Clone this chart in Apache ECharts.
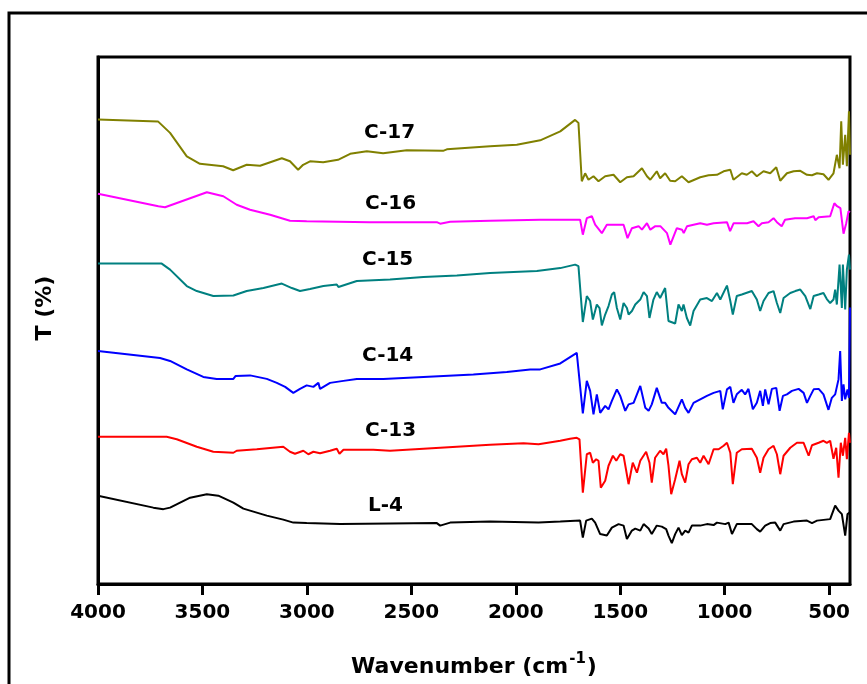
<!DOCTYPE html>
<html>
<head>
<meta charset="utf-8">
<script src="https://cdn.jsdelivr.net/npm/echarts@6/dist/echarts.min.js"></script>
<style>
html,body{margin:0;padding:0;background:#fff;}
#chart{width:867px;height:684px;}
</style>
</head>
<body>
<div id="chart"></div>
<script>
// Tick labels of the wavenumber axis
var xTicks = [4000, 3500, 3000, 2500, 2000, 1500, 1000, 500];

// Series names and colours
var seriesNames = ['C-17', 'C-16', 'C-15', 'C-14', 'C-13', 'L-4'];
var seriesColors = ['#808000', '#FF00FF', '#008080', '#0000FF', '#FF0000', '#000000'];

// Label positions [wavenumber, T]
var labelPos = [[2602, 90.4], [2597, 76.0], [2611, 64.8], [2611, 45.6], [2597, 30.6], [2621, 15.6]];

// Spectra: [wavenumber (cm-1), T (% , offset)]
var c17 = [[4000,93.1],[3713,92.7],[3655,90.4],[3575,85.7],[3512,84.2],[3401,83.7],[3353,82.9],[3288,84],[3224,83.8],[3120,85.3],[3081,84.7],[3042,83],[3018,84],[2985,84.7],[2922,84.5],[2851,85],[2793,86.2],[2713,86.7],[2635,86.3],[2522,86.9],[2348,86.8],[2330,87.1],[2123,87.7],[1995,88],[1883,88.9],[1787,90.7],[1716,93],[1700,92.4],[1684,80.7],[1668,82.3],[1652,81],[1628,81.7],[1604,80.7],[1572,81.7],[1532,82],[1500,80.5],[1468,81.5],[1436,81.7],[1396,83.3],[1372,81.7],[1356,81],[1325,82.7],[1309,81.3],[1285,82.3],[1261,80.8],[1237,80.7],[1205,81.7],[1173,80.5],[1117,81.5],[1077,81.9],[1037,82],[1005,82.7],[973,83],[958,81],[918,82.3],[894,82],[870,82.7],[846,81.7],[814,82.7],[782,82.3],[753,83.5],[734,80.8],[702,82.3],[670,82.7],[638,82.8],[606,82],[582,81.9],[558,82.3],[527,82.1],[503,81],[479,82.3],[463,86],[450,83.3],[442,92.7],[434,84],[423,90],[415,83.7],[405,94.7],[400,86]];
var c16 = [[4000,78.2],[3711,75.7],[3679,75.5],[3479,78.5],[3400,77.7],[3336,76],[3272,75],[3176,74],[3081,72.8],[3001,72.7],[2700,72.5],[2378,72.5],[2362,72.2],[2314,72.6],[2123,72.8],[1883,73],[1692,73],[1679,70],[1660,73.3],[1636,73.7],[1620,72],[1588,70.3],[1564,72],[1484,72],[1465,69.3],[1444,71.3],[1412,71.7],[1396,71],[1372,72.3],[1356,71],[1332,71.7],[1308,71.7],[1276,70.3],[1260,68],[1244,69.7],[1229,71.3],[1204,71],[1196,70.3],[1180,71.7],[1149,72],[1117,72.3],[1085,72],[1053,72.3],[989,72.5],[974,70.7],[957,72.3],[893,72.3],[862,72.7],[838,71.7],[822,72.3],[790,72.5],[766,73.3],[750,72.5],[727,71.7],[711,73],[663,73.3],[606,73.3],[574,73.7],[566,72.9],[550,73.5],[495,73.7],[475,76.3],[462,75.7],[446,75.3],[431,70.2],[418,72.3],[407,74.7],[400,74.5]];
var c15 = [[4000,64.2],[3695,64.2],[3655,63],[3575,59.7],[3527,58.7],[3448,57.7],[3352,57.8],[3288,58.7],[3208,59.3],[3120,60.2],[3072,59.3],[3033,58.7],[2985,59.1],[2921,59.7],[2857,60],[2849,59.5],[2761,60.7],[2602,61],[2442,61.5],[2282,61.8],[2123,62.3],[1899,62.7],[1787,63.3],[1716,64],[1700,63.7],[1679,52.5],[1660,57.7],[1644,56.7],[1631,53],[1612,56],[1599,55.3],[1588,51.8],[1572,54],[1556,55.7],[1540,58],[1529,58.5],[1516,55.3],[1500,53],[1484,56.3],[1468,55.3],[1460,54],[1444,54.7],[1428,56],[1404,57],[1388,58.5],[1372,57.7],[1360,53.3],[1341,57],[1325,58.5],[1309,57.3],[1285,59.3],[1269,52.7],[1237,52.2],[1221,56],[1205,54.7],[1197,56],[1181,53.3],[1165,51.8],[1149,54.7],[1117,57],[1085,57.3],[1061,56.7],[1037,58.3],[1021,57],[989,59.8],[973,56.7],[961,54],[942,57.7],[918,58],[870,58.7],[846,57],[830,54.7],[814,56.7],[790,58.3],[766,58.7],[750,56.3],[734,54.3],[718,57.3],[686,58.3],[662,58.7],[638,59],[614,57.7],[590,55.1],[574,57.7],[550,58],[527,58.3],[511,57.1],[495,56.3],[479,57],[471,59],[463,56],[450,64],[439,55.3],[434,64],[423,55],[415,63],[405,66],[400,63]];
var c14 = [[4000,46.7],[3703,45.3],[3655,44.7],[3575,43],[3496,41.5],[3432,41.1],[3352,41.1],[3341,41.7],[3272,41.8],[3192,41.1],[3144,40.3],[3104,39.5],[3065,38.3],[3033,39.1],[3001,39.8],[2969,39.5],[2945,40.3],[2937,39.1],[2889,40.3],[2825,40.7],[2761,41.1],[2634,41.1],[2442,41.5],[2346,41.7],[2203,42],[2043,42.5],[1931,43],[1883,43],[1787,44.2],[1708,46.3],[1700,46.3],[1679,34.2],[1660,40.7],[1644,38.7],[1628,34],[1612,38],[1596,34.3],[1572,35.7],[1556,35],[1540,36.7],[1516,39],[1500,37.7],[1476,34.7],[1460,36],[1436,36.3],[1404,39.7],[1380,35.3],[1364,34.7],[1349,36],[1325,39.3],[1301,36.3],[1285,36.3],[1269,35.3],[1237,34],[1205,37],[1189,35.3],[1173,34.3],[1149,36.3],[1117,37],[1085,37.7],[1053,38.3],[1021,38.7],[1009,35],[989,39],[973,39.5],[958,36.3],[942,38],[918,38.9],[902,38],[886,39.1],[865,35],[846,36.3],[830,38.7],[817,35.7],[806,39],[790,36],[774,39.1],[753,39.3],[737,34.7],[721,37.7],[702,38],[678,38.7],[646,39.1],[622,38.3],[606,36.3],[590,37.7],[574,39],[550,39.1],[527,38],[503,34.9],[487,37.3],[471,38],[455,41],[447,46.7],[439,36.7],[431,40],[423,37],[412,39],[405,37.3],[400,55.4]];
var c13 = [[4000,29.5],[3671,29.5],[3623,29],[3527,27.5],[3448,26.5],[3352,26.3],[3336,26.7],[3240,27],[3113,27.5],[3081,26.5],[3057,26.1],[3017,26.7],[2993,26],[2969,26.5],[2937,26.2],[2889,26.7],[2857,27.1],[2844,26.1],[2825,26.9],[2682,26.9],[2602,26.7],[2442,27.1],[2282,27.5],[2123,27.9],[1963,28.2],[1891,28],[1787,28.7],[1740,29.1],[1708,29.3],[1695,29],[1679,18.3],[1660,26],[1644,26.3],[1631,24.3],[1615,25],[1604,24.7],[1593,19.3],[1572,20.7],[1556,23.7],[1535,25.7],[1519,24.7],[1500,26],[1484,25.7],[1460,20],[1440,24.3],[1420,22.3],[1404,24.7],[1376,26.5],[1360,24.3],[1349,20.3],[1333,25.3],[1309,26.7],[1293,26],[1280,27.1],[1269,23.7],[1256,18],[1237,21],[1216,24.7],[1205,22],[1189,20.3],[1173,24],[1157,25],[1133,25.3],[1117,24.3],[1101,25.7],[1077,24],[1053,27],[1029,27],[1005,27.7],[989,28.3],[973,26.3],[961,20],[942,26.3],[918,27],[870,27.1],[846,25.3],[830,22.3],[814,25.3],[790,27],[766,27.7],[750,26],[734,22],[718,25.7],[686,27.3],[654,28.3],[622,28.3],[598,25.7],[582,27.8],[550,28.3],[527,28.7],[511,28.3],[495,28.7],[479,25.1],[466,27.3],[455,21.3],[444,28.3],[434,25.7],[423,29.3],[415,25],[405,30.3],[400,28.3]];
var l4 = [[4000,17.7],[3735,15.3],[3687,15],[3655,15.3],[3559,17.3],[3479,18],[3424,17.7],[3352,16.3],[3304,15.1],[3192,13.7],[3113,12.9],[3065,12.3],[3001,12.2],[2841,12],[2602,12.1],[2378,12.2],[2362,11.7],[2314,12.3],[2123,12.5],[1891,12.3],[1787,12.5],[1692,12.7],[1679,9.3],[1663,12.7],[1636,13.1],[1620,12.3],[1596,10],[1564,9.7],[1540,11.3],[1508,12],[1484,11.7],[1468,9],[1444,10.7],[1428,11.1],[1404,10.7],[1388,12],[1364,11.1],[1349,10],[1325,11.7],[1301,11.5],[1280,11],[1269,9.7],[1253,8.2],[1237,10],[1221,11.3],[1205,9.8],[1189,10.7],[1173,10.3],[1157,11.7],[1117,11.7],[1085,12],[1053,11.8],[1037,12.3],[997,12],[981,12.3],[965,10],[942,12],[870,12],[846,11],[830,10.5],[806,11.7],[782,12.2],[758,12.3],[734,10.7],[718,12],[670,12.5],[606,12.7],[582,12.2],[558,12.7],[495,13],[471,15.7],[455,14.7],[439,14],[423,9.7],[412,14],[402,14.3]];

var spectra = [c17, c16, c15, c14, c13, l4];

var FONT = 'DejaVu Sans';
var chart = echarts.init(document.getElementById('chart'), null, {renderer: 'canvas'});

var series = spectra.map(function (d, i) {
  return {
    name: seriesNames[i],
    type: 'line',
    data: d,
    showSymbol: false,
    symbol: 'none',
    lineStyle: {color: seriesColors[i], width: 2},
    itemStyle: {color: seriesColors[i]},
    z: 3
  };
});

series.push({
  type: 'scatter',
  symbolSize: 1,
  itemStyle: {color: '#000', opacity: 0},
  data: labelPos.map(function (p, i) { return {value: p, name: seriesNames[i]}; }),
  label: {
    show: true,
    position: [0, 0],
    align: 'center',
    verticalAlign: 'middle',
    formatter: function (p) { return p.name; },
    fontFamily: FONT,
    fontWeight: 'bold',
    fontSize: 20,
    color: '#000000',
    opacity: 1,
    textBorderWidth: 0
  },
  z: 5
});

chart.setOption({
  backgroundColor: '#ffffff',
  animation: false,
  grid: {
    left: 98, right: 17, top: 57, bottom: 99,
    show: true, borderColor: '#000', borderWidth: 3, backgroundColor: 'transparent'
  },
  xAxis: {
    type: 'value',
    inverse: true,
    min: 400,
    max: 4000,
    name: '{a|Wavenumber (cm}{s|-1}{a|)}',
    nameLocation: 'middle',
    nameGap: 68,
    nameTextStyle: {
      rich: {
        a: {fontFamily: FONT, fontWeight: 'bold', fontSize: 22, color: '#000', verticalAlign: 'bottom', lineHeight: 26},
        s: {fontFamily: FONT, fontWeight: 'bold', fontSize: 15, color: '#000', verticalAlign: 'top', lineHeight: 26, padding: [0, 1, 12, 1]}
      }
    },
    axisLine: {show: true, lineStyle: {color: '#000', width: 3}},
    axisTick: {show: true, inside: false, length: 11, lineStyle: {color: '#000', width: 3}, customValues: xTicks},
    axisLabel: {
      customValues: xTicks,
      formatter: function (v) { return String(v); },
      fontFamily: FONT, fontWeight: 'bold', fontSize: 20, color: '#000', margin: 19
    },
    splitLine: {show: false}
  },
  yAxis: {
    type: 'value',
    min: 0,
    max: 105.6,
    axisLine: {show: true, lineStyle: {color: '#000', width: 3}},
    axisTick: {show: false},
    axisLabel: {show: false},
    splitLine: {show: false}
  },
  graphic: [
    {
      type: 'rect',
      shape: {x: 9, y: 13, width: 900, height: 720},
      style: {fill: 'none', stroke: '#000', lineWidth: 3},
      silent: true
    },
    {
      type: 'text',
      x: 45,
      y: 308,
      rotation: Math.PI / 2,
      style: {
        text: 'T (%)',
        fontFamily: FONT, fontWeight: 'bold', fontSize: 22, fill: '#000',
        align: 'center', verticalAlign: 'middle'
      }
    }
  ],
  series: series
});
</script>
</body>
</html>
